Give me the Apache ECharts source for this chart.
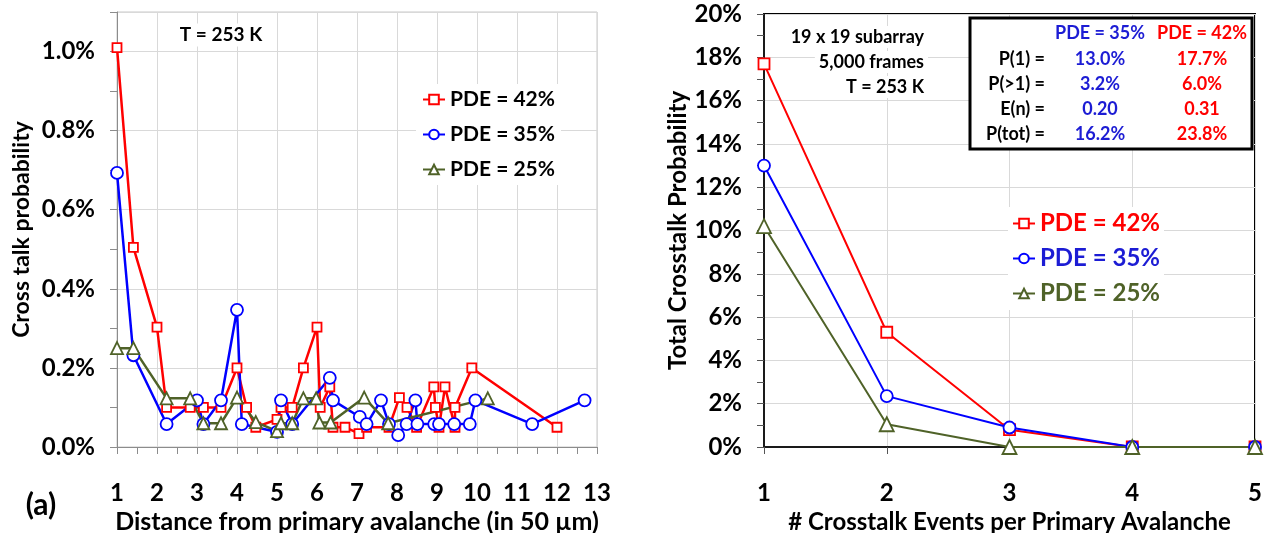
<!DOCTYPE html>
<html>
<head>
<meta charset="utf-8">
<script src="https://cdn.jsdelivr.net/npm/echarts@6/dist/echarts.min.js"></script>
<style>
  html, body { margin: 0; padding: 0; background: #fff; }
  #chart { width: 1264px; height: 533px; }
</style>
</head>
<body>
<div id="chart"></div>
<script>
// ---- (a) cross talk probability vs distance (units of 50 um) ----
const seriesNames = ['PDE = 42%', 'PDE = 35%', 'PDE = 25%'];

const dist42 = [1.0, 1.41, 2.0, 2.24, 2.83, 3.16, 3.6, 4.0, 4.24, 4.47, 5.0, 5.1, 5.38, 5.66, 6.0, 6.08, 6.32, 6.4, 6.7, 7.05, 7.24, 7.8, 8.06, 8.25, 8.49, 8.92, 8.96, 9.05, 9.2, 9.45, 9.45, 9.87, 12.0];
const prob42 = [1.01, 0.505, 0.303, 0.10, 0.10, 0.10, 0.10, 0.20, 0.10, 0.05, 0.07, 0.10, 0.10, 0.20, 0.303, 0.10, 0.152, 0.05, 0.05, 0.034, 0.05, 0.05, 0.125, 0.10, 0.05, 0.152, 0.10, 0.05, 0.152, 0.05, 0.10, 0.20, 0.05];

const dist35 = [1.0, 1.41, 2.24, 3.0, 3.16, 3.6, 4.0, 4.12, 5.0, 5.1, 5.38, 6.32, 6.4, 7.07, 7.24, 7.6, 7.8, 8.03, 8.24, 8.46, 8.51, 8.93, 9.05, 9.43, 9.82, 9.96, 11.38, 12.69];
const prob35 = [0.693, 0.232, 0.058, 0.118, 0.058, 0.118, 0.347, 0.058, 0.038, 0.118, 0.058, 0.175, 0.118, 0.076, 0.058, 0.118, 0.058, 0.03, 0.058, 0.118, 0.058, 0.058, 0.058, 0.058, 0.058, 0.118, 0.058, 0.118];

const dist25 = [1.0, 1.41, 2.24, 2.83, 3.16, 3.6, 4.0, 4.47, 5.0, 5.1, 5.38, 5.66, 5.98, 6.06, 6.34, 7.18, 7.78, 10.27];
const prob25 = [0.25, 0.25, 0.123, 0.123, 0.06, 0.06, 0.125, 0.063, 0.04, 0.06, 0.06, 0.123, 0.123, 0.062, 0.062, 0.125, 0.06, 0.123];

// ---- total crosstalk probability vs number of crosstalk events ----
const nEvents = [1, 2, 3, 4, 5];
const tot42 = [17.7, 5.3, 0.8, 0, 0];
const tot35 = [13.0, 2.35, 0.9, 0, 0];
const tot25 = [10.2, 1.05, 0, 0, 0];

// summary table
const tableHeads = ['PDE = 35%', 'PDE = 42%'];
const tableRows = ['P(1) =', 'P(>1) =', 'E(n) =', 'P(tot) ='];
const table35 = ['13.0%', '3.2%', '0.20', '16.2%'];
const table42 = ['17.7%', '6.0%', '0.31', '23.8%'];

const infoLines = ['19 x 19 subarray', '5,000 frames', 'T = 253 K'];

const RED = '#FF0000';
const BLUE = '#0000FF';
const OLIVE = '#4F6228';
const TBL_BLUE = '#1C1CD4';
const FONT = 'Lato, "Open Sans", sans-serif';

const zip = (xs, ys) => xs.map((x, i) => [x, ys[i]]);

const chart = echarts.init(document.getElementById('chart'), null, { renderer: 'canvas' });

const leftSeries = [
  { name: seriesNames[0], data: zip(dist42, prob42), color: RED, symbol: 'rect', size: 9 },
  { name: seriesNames[1], data: zip(dist35, prob35), color: BLUE, symbol: 'circle', size: 12 },
  { name: seriesNames[2], data: zip(dist25, prob25), color: OLIVE, symbol: 'triangle', size: 12 }
].map(s => ({
  type: 'line', name: s.name, xAxisIndex: 0, yAxisIndex: 0, data: s.data,
  symbol: s.symbol, symbolSize: s.size, showAllSymbol: true,
  lineStyle: { color: s.color, width: 2.5 },
  itemStyle: { color: '#fff', borderColor: s.color, borderWidth: 1.8 },
  emphasis: { disabled: true }, animation: false
}));

const rightSeries = [
  { name: seriesNames[0], data: zip(nEvents, tot42), color: RED, symbol: 'rect', size: 11 },
  { name: seriesNames[1], data: zip(nEvents, tot35), color: BLUE, symbol: 'circle', size: 12 },
  { name: seriesNames[2], data: zip(nEvents, tot25), color: OLIVE, symbol: 'triangle', size: 14 }
].map(s => ({
  type: 'line', name: s.name, xAxisIndex: 1, yAxisIndex: 2, data: s.data,
  symbol: s.symbol, symbolSize: s.size, showAllSymbol: true,
  lineStyle: { color: s.color, width: 2 },
  itemStyle: { color: '#fff', borderColor: s.color, borderWidth: 1.8 },
  emphasis: { disabled: true }, animation: false
}));

const boldLabel = (size) => ({ fontFamily: FONT, fontWeight: 'bold', fontSize: size, color: '#000' });

// summary table graphic
const TF = 'bold 18px ' + FONT;
const tableGraphic = [
  { type: 'rect', shape: { x: 970, y: 18, width: 282, height: 131 },
    style: { fill: '#fff', stroke: '#000', lineWidth: 3 }, z: 100 },
  { type: 'text', x: 1100, y: 33, z: 101,
    style: { text: tableHeads[0], fill: TBL_BLUE, font: TF, textAlign: 'center', textVerticalAlign: 'middle' } },
  { type: 'text', x: 1202, y: 33, z: 101,
    style: { text: tableHeads[1], fill: RED, font: TF, textAlign: 'center', textVerticalAlign: 'middle' } }
];
tableRows.forEach((r, i) => {
  const y = 59 + i * 25;
  tableGraphic.push(
    { type: 'text', x: 1045, y, z: 101,
      style: { text: r, fill: '#000', font: TF, textAlign: 'right', textVerticalAlign: 'middle' } },
    { type: 'text', x: 1100, y, z: 101,
      style: { text: table35[i], fill: TBL_BLUE, font: TF, textAlign: 'center', textVerticalAlign: 'middle' } },
    { type: 'text', x: 1202, y, z: 101,
      style: { text: table42[i], fill: RED, font: TF, textAlign: 'center', textVerticalAlign: 'middle' } }
  );
});

const infoGraphic = infoLines.map((t, i) => ({
  type: 'text', x: 928, y: 37 + i * 25, z: 90,
  style: { text: t, fill: '#000', font: 'bold 18px ' + FONT, textAlign: 'right', textVerticalAlign: 'middle',
           backgroundColor: '#fff', padding: [2, 4] }
}));

const option = {
  backgroundColor: '#fff',
  animation: false,
  grid: [
    { left: 117, top: 12, width: 480, height: 435, containLabel: false, outerBoundsMode: 'none',
      show: true, borderColor: '#c8c8c8', borderWidth: 1, backgroundColor: 'transparent' },
    { left: 764, top: 14, width: 491, height: 433, containLabel: false, outerBoundsMode: 'none',
      show: true, borderColor: '#000', borderWidth: 2, backgroundColor: 'transparent' }
  ],
  xAxis: [
    {
      type: 'value', gridIndex: 0, min: 1, max: 13, interval: 1,
      name: 'Distance from primary avalanche (in 50 µm)', nameLocation: 'middle', nameGap: 59,
      nameTextStyle: boldLabel(25),
      axisLine: { show: true, onZero: false, lineStyle: { color: '#8c8c8c', width: 1 } },
      axisTick: { show: true, inside: false, length: 7, lineStyle: { color: '#8c8c8c' } },
      minorTick: { show: true, splitNumber: 2, length: 7, lineStyle: { color: '#8c8c8c' } },
      axisLabel: { ...boldLabel(24), margin: 34 },
      splitLine: { show: true, lineStyle: { color: '#d9d9d9', width: 1 } }
    },
    {
      type: 'value', gridIndex: 1, min: 1, max: 5, interval: 1,
      name: '# Crosstalk Events per Primary Avalanche', nameLocation: 'middle', nameGap: 60,
      nameTextStyle: boldLabel(24),
      axisLine: { show: true, onZero: false, lineStyle: { color: '#1a1a1a', width: 2 } },
      axisTick: { show: true, inside: false, length: 7, lineStyle: { color: '#555' } },
      axisLabel: { ...boldLabel(24), margin: 34 },
      splitLine: { show: true, lineStyle: { color: '#d9d9d9', width: 1 } }
    }
  ],
  yAxis: [
    {
      type: 'value', gridIndex: 0, min: 0, max: 1.1, interval: 0.1,
      name: 'Cross talk probability', nameLocation: 'middle', nameGap: 84, nameRotate: 90,
      nameTextStyle: boldLabel(23),
      axisLine: { show: true, lineStyle: { color: '#8c8c8c', width: 1 } },
      axisTick: { show: true, inside: false, length: 7, lineStyle: { color: '#8c8c8c' } },
      axisLabel: {
        ...boldLabel(24), margin: 22,
        formatter: v => {
          const k = Math.round(v * 10);
          return (k % 2 === 0 && k <= 10) ? (k / 10).toFixed(1) + '%' : '';
        }
      },
      splitLine: { show: false }
    },
    {
      // grid lines every 0.2 % for the left panel
      type: 'value', gridIndex: 0, min: 0, max: 1.1, interval: 0.2, position: 'left',
      axisLine: { show: false }, axisTick: { show: false }, axisLabel: { show: false },
      splitLine: { show: true, lineStyle: { color: '#d9d9d9', width: 1 } }
    },
    {
      type: 'value', gridIndex: 1, min: 0, max: 20, interval: 2,
      name: 'Total Crosstalk Probability', nameLocation: 'middle', nameGap: 74, nameRotate: 90,
      nameTextStyle: boldLabel(24),
      axisLine: { show: true, lineStyle: { color: '#1a1a1a', width: 2 } },
      axisTick: { show: true, inside: false, length: 7, lineStyle: { color: '#555' } },
      minorTick: { show: true, splitNumber: 2, length: 7, lineStyle: { color: '#555' } },
      axisLabel: { ...boldLabel(24), margin: 22, formatter: v => v + '%' },
      splitLine: { show: true, lineStyle: { color: '#d9d9d9', width: 1 } }
    }
  ],
  legend: [
    {
      left: 416, top: 84, orient: 'vertical', itemGap: 12, itemWidth: 22, itemHeight: 12,
      backgroundColor: '#fff', padding: [4, 6],
      data: seriesNames.slice(),
      textStyle: { ...boldLabel(21), lineHeight: 23 },
      selectedMode: false
    },
    {
      left: 1008, top: 207, orient: 'vertical', itemGap: 10, itemWidth: 22, itemHeight: 12,
      backgroundColor: '#fff', padding: [4, 4],
      data: [
        { name: seriesNames[0], textStyle: { color: RED } },
        { name: seriesNames[1], textStyle: { color: TBL_BLUE } },
        { name: seriesNames[2], textStyle: { color: OLIVE } }
      ],
      textStyle: { fontFamily: FONT, fontWeight: 'bold', fontSize: 24, lineHeight: 25 },
      selectedMode: false
    }
  ],
  graphic: [
    { type: 'text', x: 221, y: 35, z: 90,
      style: { text: 'T = 253 K', fill: '#000', font: 'bold 19px ' + FONT, textAlign: 'center', textVerticalAlign: 'middle',
               backgroundColor: '#fff', padding: [2, 4] } },
    { type: 'text', x: 41, y: 505, z: 90,
      style: { text: '(a)', fill: '#000', font: 'bold 30px ' + FONT, textAlign: 'center', textVerticalAlign: 'middle' } },
    ...infoGraphic,
    ...tableGraphic
  ],
  series: [...leftSeries, ...rightSeries]
};

chart.setOption(option);
</script>
</body>
</html>
